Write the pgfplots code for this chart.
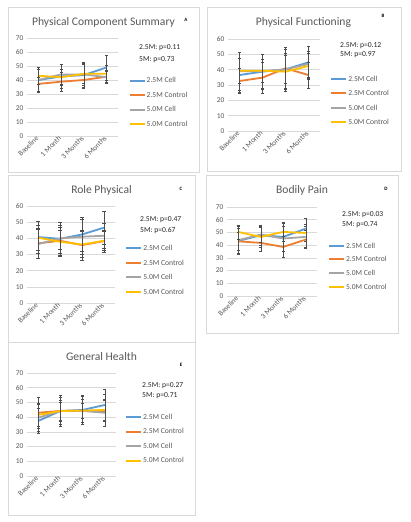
\documentclass[border=0pt]{standalone}
\usepackage{fontspec}
\setmainfont{Carlito}
\usepackage{pgfplots}
\pgfplotsset{compat=1.18}

\definecolor{cblue}{HTML}{5B9BD5}
\definecolor{corange}{HTML}{ED7D31}
\definecolor{cgray}{HTML}{A5A5A5}
\definecolor{cyellow}{HTML}{FFC000}
\definecolor{txt}{HTML}{595959}
\definecolor{gridc}{HTML}{D9D9D9}
\definecolor{framec}{HTML}{D9D9D9}
\definecolor{errc}{HTML}{4D4D4D}

\pgfplotsset{
  panel/.style={
    scale only axis, clip=false,
    xmin=-0.5, xmax=3.5, ymin=0,
    xtick={0,1,2,3},
    xticklabels={Baseline,1 Month,3 Months,6 Months},
    xticklabel style={rotate=45, anchor=east, font=\fontsize{7.4}{8}\selectfont, text=txt, inner sep=1.5pt},
    yticklabel style={font=\fontsize{7.4}{8}\selectfont, text=txt},
    ytick distance=10,
    ymajorgrids, grid style={draw=gridc, line width=0.6pt},
    axis line style={draw=none},
    major tick length=0pt,
    /pgf/number format/assume math mode=true,
    legend style={draw=none, fill=none, anchor=north west, row sep=5pt, inner sep=0pt,
      font=\fontsize{7.6}{9}\selectfont, text=txt,
      nodes={inner sep=1pt, text height=6pt, text depth=1.5pt},
      cells={anchor=west}},
    legend image code/.code={\draw[line width=2pt, #1] (0pt,0pt) -- (15pt,0pt);},
    every axis plot/.append style={line width=1.8pt, no marks},
    error bars/y dir=both, error bars/y explicit,
    error bars/error bar style={line width=0.5pt, draw=errc},
    error bars/error mark options={rotate=90, mark size=1.6pt, line width=0.5pt, draw=errc},
  },
}
\tikzset{
  ttl/.style={font=\fontsize{11.6}{13}\selectfont, text=txt, inner sep=0pt},
  pval/.style={anchor=west, inner sep=0pt, font=\fontsize{7.6}{9}\selectfont, text=black!85},
  tag/.style={inner sep=0pt, font=\fontsize{5}{5}\selectfont\bfseries},
}
% legend keys shared by all panels
\newcommand\serieskeys{%
  \addlegendimage{cblue}\addlegendentry{2.5M Cell}
  \addlegendimage{corange}\addlegendentry{2.5M Control}
  \addlegendimage{cgray}\addlegendentry{5.0M Cell}
  \addlegendimage{cyellow}\addlegendentry{5.0M Control}}

\begin{document}
\begin{tikzpicture}
\fill[white] (0pt,0pt) rectangle (411pt,-522pt);

% panel frames
\draw[framec, line width=0.6pt] (8pt,-7pt) rectangle (199pt,-172pt);
\draw[framec, line width=0.6pt] (207pt,-7pt) rectangle (401pt,-171pt);
\draw[framec, line width=0.6pt] (8pt,-175pt) rectangle (195pt,-342pt);
\draw[framec, line width=0.6pt] (206pt,-175pt) rectangle (398pt,-333pt);
\draw[framec, line width=0.6pt] (8pt,-342pt) rectangle (195pt,-515pt);

% ---- Physical Component Summary
\begin{axis}[panel, at={(27pt,-136pt)}, anchor=south west, width=91pt, height=98pt, ymax=70,
  legend style={at={(axis description cs:1.115,0.615)}}]
\serieskeys
\addplot[cblue, forget plot] coordinates {(0,40) +- (0,9) (1,42.5) +- (0,8.5) (2,43.5) +- (0,9.5) (3,49) +- (0,9)};
\addplot[corange, forget plot] coordinates {(0,37.2) +- (0,5) (1,38.8) +- (0,6.8) (2,40) +- (0,5) (3,42.4) +- (0,4.4)};
\addplot[cgray, forget plot] coordinates {(0,40) +- (0,8) (1,44) +- (0,7) (2,44) +- (0,8) (3,42) +- (0,4)};
\addplot[cyellow, forget plot] coordinates {(0,43) +- (0,6) (1,42) +- (0,6) (2,44.4) +- (0,7) (3,44.4) +- (0,6)};
\end{axis}
\node[ttl] at (103.5pt,-22pt) {Physical Component Summary};
\node[tag] at (186pt,-20pt) {A};
\node[pval] at (139pt,-47.7pt) {2.5M: p=0.11};
\node[pval] at (139pt,-59.3pt) {5M: p=0.73};

% ---- Physical Functioning
\begin{axis}[panel, at={(228pt,-131pt)}, anchor=south west, width=92pt, height=92pt, ymax=60,
  legend style={at={(axis description cs:1.11,0.62)}}]
\serieskeys
\addplot[cblue, forget plot] coordinates {(0,36.5) +- (0,11) (1,38.7) +- (0,11.3) (2,40.2) +- (0,14.5) (3,44.8) +- (0,10.2)};
\addplot[corange, forget plot] coordinates {(0,32.6) +- (0,8) (1,34.8) +- (0,10) (2,40.9) +- (0,10) (3,36.5) +- (0,8.5)};
\addplot[cgray, forget plot] coordinates {(0,39) +- (0,12.5) (1,39) +- (0,11) (2,40.2) +- (0,13) (3,43.7) +- (0,8.5)};
\addplot[cyellow, forget plot] coordinates {(0,39.3) +- (0,8) (1,39.3) +- (0,7.5) (2,38.7) +- (0,11) (3,42.4) +- (0,8.5)};
\end{axis}
\node[ttl] at (303.5pt,-22pt) {Physical Functioning};
\node[tag] at (383pt,-16pt) {B};
\node[pval] at (340pt,-45.7pt) {2.5M: p=0.12};
\node[pval] at (340pt,-55pt) {5M: p=0.97};

% ---- Role Physical
\begin{axis}[panel, at={(27pt,-303pt)}, anchor=south west, width=88pt, height=97pt, ymax=60,
  legend style={at={(axis description cs:1.115,0.615)}}]
\serieskeys
\addplot[cblue, forget plot] coordinates {(0,40.8) +- (0,10) (1,39.7) +- (0,10) (2,42.4) +- (0,10.5) (3,46.6) +- (0,10.4)};
\addplot[corange, forget plot] coordinates {(0,36.9) +- (0,9.5) (1,38.5) +- (0,9.5) (2,35.8) +- (0,9.5) (3,38.3) +- (0,7)};
\addplot[cgray, forget plot] coordinates {(0,36.4) +- (0,9) (1,40) +- (0,7) (2,41) +- (0,11) (3,41.6) +- (0,7.5)};
\addplot[cyellow, forget plot] coordinates {(0,40.4) +- (0,8) (1,37.9) +- (0,7) (2,36.2) +- (0,8) (3,38.5) +- (0,6)};
\end{axis}
\node[ttl] at (101.5pt,-190pt) {Role Physical};
\node[tag] at (181pt,-189pt) {C};
\node[pval] at (140pt,-220pt) {2.5M: p=0.47};
\node[pval] at (140pt,-231pt) {5M: p=0.67};

% ---- Bodily Pain
\begin{axis}[panel, at={(227pt,-296pt)}, anchor=south west, width=90pt, height=89pt, ymax=70,
  legend style={at={(axis description cs:1.12,0.62)}, row sep=4.2pt}]
\serieskeys
\addplot[cblue, forget plot] coordinates {(0,43.3) +- (0,10) (1,47.8) +- (0,7.5) (2,46.5) +- (0,11) (3,53) +- (0,8)};
\addplot[corange, forget plot] coordinates {(0,43) +- (0,7) (1,41.8) +- (0,6.5) (2,38.6) +- (0,8.5) (3,44.4) +- (0,7)};
\addplot[cgray, forget plot] coordinates {(0,43.9) +- (0,11) (1,48.3) +- (0,6) (2,45.2) +- (0,10) (3,46.5) +- (0,8)};
\addplot[cyellow, forget plot] coordinates {(0,50.4) +- (0,5.6) (1,46.5) +- (0,8) (2,50.4) +- (0,7.5) (3,49.6) +- (0,6.5)};
\end{axis}
\node[ttl] at (302pt,-190pt) {Bodily Pain};
\node[tag] at (386pt,-189pt) {D};
\node[pval] at (342pt,-214.3pt) {2.5M: p=0.03};
\node[pval] at (342pt,-224.3pt) {5M: p=0.74};

% ---- General Health
\begin{axis}[panel, at={(27pt,-476pt)}, anchor=south west, width=89pt, height=103pt, ymax=70,
  legend style={at={(axis description cs:1.10,0.62)}}]
\serieskeys
\addplot[cblue, forget plot] coordinates {(0,37.4) +- (0,8.5) (1,44.2) +- (0,10.5) (2,44.9) +- (0,10) (3,48.3) +- (0,10.5)};
\addplot[corange, forget plot] coordinates {(0,43) +- (0,10.5) (1,44.2) +- (0,7) (2,44.4) +- (0,9.5) (3,44.2) +- (0,7)};
\addplot[cgray, forget plot] coordinates {(0,39.6) +- (0,9) (1,44.2) +- (0,6) (2,44.2) +- (0,5) (3,43) +- (0,9)};
\addplot[cyellow, forget plot] coordinates {(0,41.5) +- (0,8) (1,44.2) +- (0,9) (2,44.4) +- (0,8) (3,44.9) +- (0,11)};
\end{axis}
\node[ttl] at (101.5pt,-357pt) {General Health};
\node[tag] at (181pt,-365pt) {E};
\node[pval] at (142pt,-386pt) {2.5M: p=0.27};
\node[pval] at (142pt,-396pt) {5M: p=0.71};

\pgfresetboundingbox
\useasboundingbox (0pt,0pt) rectangle (411pt,-522pt);
\end{tikzpicture}
\end{document}
